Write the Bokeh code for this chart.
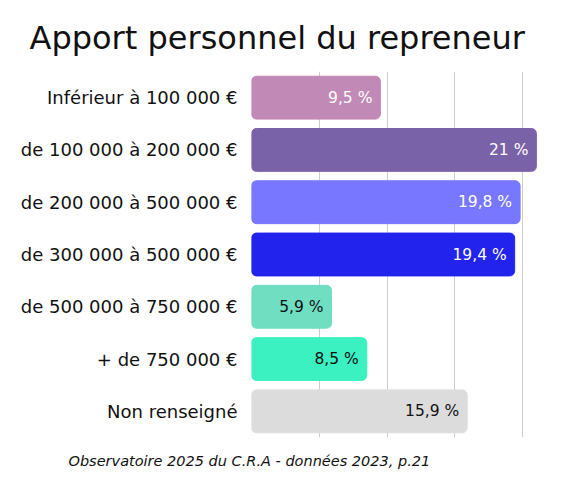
from bokeh.plotting import figure
from bokeh.models import FactorRange, Range1d, Grid, FixedTicker, Title, ColumnDataSource
from bokeh.core.properties import value
from bokeh.embed import file_html
from bokeh.resources import INLINE

FONT = "DejaVu Sans"

categories = ["Inférieur à 100 000 €", "de 100 000 à 200 000 €", "de 200 000 à 500 000 €",
              "de 300 000 à 500 000 €", "de 500 000 à 750 000 €", "+ de 750 000 €", "Non renseigné"]
values = [9.5, 21, 19.8, 19.4, 5.9, 8.5, 15.9]
value_labels = ["9,5 %", "21 %", "19,8 %", "19,4 %", "5,9 %", "8,5 %", "15,9 %"]
bar_colors = ["#C189B6", "#7A62A8", "#7777FF", "#2323EE", "#70DEC1", "#3BF0C1", "#DCDCDC"]
text_colors = ["white", "white", "white", "white", "#111111", "#111111", "#111111"]
grid_ticks = [5, 10, 15, 20]
title_text = "Apport personnel du repreneur"
caption_text = "Observatoire 2025 du C.R.A - données 2023, p.21"

src = ColumnDataSource(dict(cat=categories, val=values, lab=value_labels,
                            col=bar_colors, tcol=text_colors))

p = figure(width=586, height=491, output_backend="svg", toolbar_location=None,
           y_range=FactorRange(factors=list(reversed(categories)), range_padding=0),
           x_range=Range1d(0, 21.6), x_axis_location=None,
           min_border_left=251, min_border_right=42, min_border_top=71, min_border_bottom=54)
p.outline_line_color = None
p.ygrid.grid_line_color = None
p.xgrid.grid_line_color = None
p.add_layout(Grid(dimension=0, ticker=FixedTicker(ticks=grid_ticks), grid_line_color="#cccccc",
                  grid_line_width=1))

p.hbar(y="cat", right="val", left=0, height=0.82, color="col", source=src, border_radius=5)
p.text(x="val", y="cat", text="lab", x_offset=-8, text_align="right", text_baseline="middle",
       text_font=value(FONT), text_font_size="15.5px", text_color="tcol", source=src)

p.yaxis.axis_line_color = None
p.yaxis.major_tick_line_color = None
p.yaxis.minor_tick_line_color = None
p.yaxis.major_tick_out = 0
p.yaxis.major_tick_in = 0
p.yaxis.major_label_text_font = FONT
p.yaxis.major_label_text_font_size = "18px"
p.yaxis.major_label_text_color = "#111111"
p.yaxis.major_label_standoff = 14

p.add_layout(Title(text=title_text, align="left", offset=-222, text_font=FONT,
                   text_font_size="32px", text_font_style="normal", text_color="#111111",
                   standoff=30), "above")
p.add_layout(Title(text=caption_text, align="left", offset=-183, text_font=FONT,
                   text_font_size="14.5px", text_font_style="italic", text_color="#111111",
                   standoff=26), "below")

open("out.html", "w").write(file_html(p, INLINE))
